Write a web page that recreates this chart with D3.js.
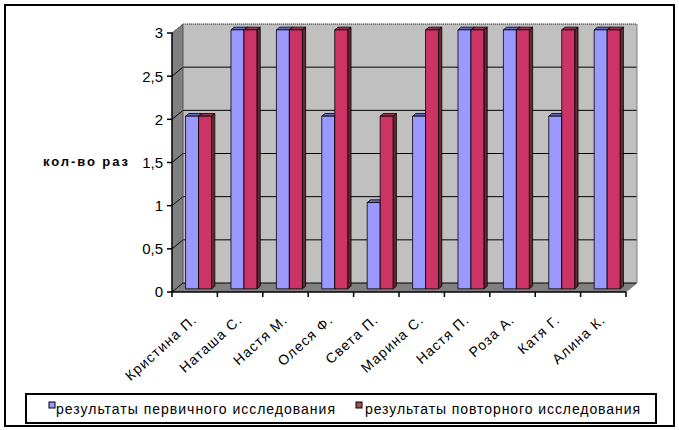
<!DOCTYPE html>
<html>
<head>
<meta charset="utf-8">
<script src="https://cdn.jsdelivr.net/npm/d3@7"></script>
<style>
  body { margin: 0; background: #fff; }
  svg { display: block; font-family: "Liberation Sans", Arial, sans-serif; }
</style>
</head>
<body>
<div id="chart"></div>
<script>
// data
const categories = ["Кристина П.", "Наташа С.", "Настя М.", "Олеся Ф.", "Света П.",
                    "Марина С.", "Настя П.", "Роза А.", "Катя Г.", "Алина К."];
const firstStudy  = [2, 3, 3, 2, 1, 2, 3, 3, 2, 3];
const secondStudy = [2, 3, 3, 3, 2, 3, 3, 3, 3, 3];
const seriesNames = ["результаты первичного исследования", "результаты повторного исследования"];
const yTicks = [0, 0.5, 1, 1.5, 2, 2.5, 3];
const yTickLabels = ["0", "0,5", "1", "1,5", "2", "2,5", "3"];

const width = 679, height = 430;
const depth = {dx: 11, dy: -9};       // 3D offset of the back wall
const barDepth = [0.35, 0.65];        // bars sit in the middle of the depth

const colors = [
  {front: "#9999ff", top: "#6666c0", side: "#4d4d99"},
  {front: "#cc3366", top: "#99334d", side: "#662a36"}
];

const svg = d3.select("#chart").append("svg")
  .attr("width", width)
  .attr("height", height);

// outer border
svg.append("rect")
  .attr("x", 5).attr("y", 5)
  .attr("width", 669).attr("height", 421)
  .attr("fill", "#fff").attr("stroke", "#000").attr("stroke-width", 2);

const x = d3.scaleBand().domain(categories).range([172, 626]).padding(0);
const xs = d3.scaleBand().domain([0, 1]).range([0, x.bandwidth()]).paddingInner(0).paddingOuter(0.75);
const y = d3.scaleLinear().domain([0, 3]).range([292, 33]);

const [x0, x1] = x.range();
const [yb, yt] = y.range();

function pt(px, py, f) {
  return [px + f * depth.dx, py + f * depth.dy];
}
const line = d3.line();

const walls = svg.append("g");

// back wall
walls.append("path")
  .attr("d", line([pt(x0, yt, 1), pt(x1, yt, 1), pt(x1, yb, 1), pt(x0, yb, 1)]) + "Z")
  .attr("fill", "#c0c0c0");

// left wall
walls.append("path")
  .attr("d", line([pt(x0, yt, 0), pt(x0, yt, 1), pt(x0, yb, 1), pt(x0, yb, 0)]) + "Z")
  .attr("fill", "#808080");

// floor
walls.append("path")
  .attr("d", line([pt(x0, yb, 0), pt(x0, yb, 1), pt(x1, yb, 1), pt(x1, yb, 0)]) + "Z")
  .attr("fill", "#808080");

// gridlines: back wall + left wall
yTicks.forEach(function(t) {
  const yy = y(t);
  const dashed = t === 3 ? "1,1" : null;
  walls.append("path")
    .attr("d", line([pt(x0, yy, 0), pt(x0, yy, 1), pt(x1, yy, 1)]))
    .attr("fill", "none")
    .attr("stroke", "#000")
    .attr("stroke-width", 1)
    .attr("stroke-dasharray", dashed);
});

// wall edges
walls.append("path")
  .attr("d", line([pt(x1, yt, 1), pt(x1, yb, 1), pt(x1, yb, 0)]))
  .attr("fill", "none").attr("stroke", "#808080").attr("stroke-width", 1);
walls.append("path")
  .attr("d", line([pt(x0, yb, 1), pt(x0, yt, 1)]))
  .attr("fill", "none").attr("stroke", "#555").attr("stroke-width", 1);

// bars
const bars = svg.append("g");
const series = [firstStudy, secondStudy];

categories.forEach(function(cat, i) {
  series.forEach(function(values, s) {
    const v = values[i];
    const a = x(cat) + xs(s);
    const b = a + xs.bandwidth();
    const top = y(v), bot = y(0);
    const [f0, f1] = barDepth;
    const c = colors[s];

    bars.append("path")
      .attr("d", line([pt(b, top, f0), pt(b, bot, f0), pt(b, bot, f1), pt(b, top, f1)]) + "Z")
      .attr("fill", c.side).attr("stroke", "#000").attr("stroke-width", 0.8);
    bars.append("path")
      .attr("d", line([pt(a, top, f0), pt(b, top, f0), pt(b, top, f1), pt(a, top, f1)]) + "Z")
      .attr("fill", c.top).attr("stroke", "#000").attr("stroke-width", 0.8);
    bars.append("path")
      .attr("d", line([pt(a, top, f0), pt(b, top, f0), pt(b, bot, f0), pt(a, bot, f0)]) + "Z")
      .attr("fill", c.front).attr("stroke", "#000").attr("stroke-width", 0.8);
  });
});

// axes
const axes = svg.append("g").attr("stroke", "#000").attr("stroke-width", 1.5);
axes.append("line").attr("x1", x0).attr("x2", x0).attr("y1", yt).attr("y2", yb);
axes.append("line").attr("x1", x0).attr("x2", x1).attr("y1", yb).attr("y2", yb);

yTicks.forEach(function(t) {
  axes.append("line").attr("x1", x0 - 5).attr("x2", x0).attr("y1", y(t)).attr("y2", y(t));
});
const boundaries = categories.map(c => x(c)).concat([x1]);
boundaries.forEach(function(bx) {
  axes.append("line").attr("x1", bx).attr("x2", bx).attr("y1", yb).attr("y2", yb + 5);
});

// y tick labels
svg.append("g").selectAll("text")
  .data(yTicks)
  .join("text")
  .attr("x", 163)
  .attr("y", d => y(d))
  .attr("dy", "0.36em")
  .attr("text-anchor", "end")
  .attr("font-size", 15)
  .text((d, i) => yTickLabels[i]);

// y title
svg.append("text")
  .attr("x", 43).attr("y", 166)
  .attr("font-size", 13)
  .attr("font-weight", "bold")
  .attr("textLength", 85)
  .attr("lengthAdjust", "spacing")
  .text("кол-во раз");

// category labels
svg.append("g").selectAll("text")
  .data(categories)
  .join("text")
  .attr("transform", d => `translate(${x(d) + x.bandwidth() / 2 + 3}, 321) rotate(-42)`)
  .attr("text-anchor", "end")
  .attr("font-size", 14)
  .attr("letter-spacing", 1.1)
  .text(d => d);

// legend
const legend = svg.append("g");
legend.append("rect")
  .attr("x", 26).attr("y", 394)
  .attr("width", 630).attr("height", 29)
  .attr("fill", "#fff").attr("stroke", "#000").attr("stroke-width", 2);

const legendItems = [
  {x: 49, fill: "#9999ff", tx: 56, len: 279},
  {x: 356, fill: "#aa4d4d", tx: 365, len: 275}
];
legendItems.forEach(function(it, i) {
  legend.append("rect")
    .attr("x", it.x).attr("y", 402)
    .attr("width", 6).attr("height", 6)
    .attr("fill", it.fill).attr("stroke", "#000").attr("stroke-width", 1);
  legend.append("text")
    .attr("x", it.tx).attr("y", 414)
    .attr("font-size", 14)
    .attr("textLength", it.len)
    .attr("lengthAdjust", "spacing")
    .text(seriesNames[i]);
});
</script>
</body>
</html>
